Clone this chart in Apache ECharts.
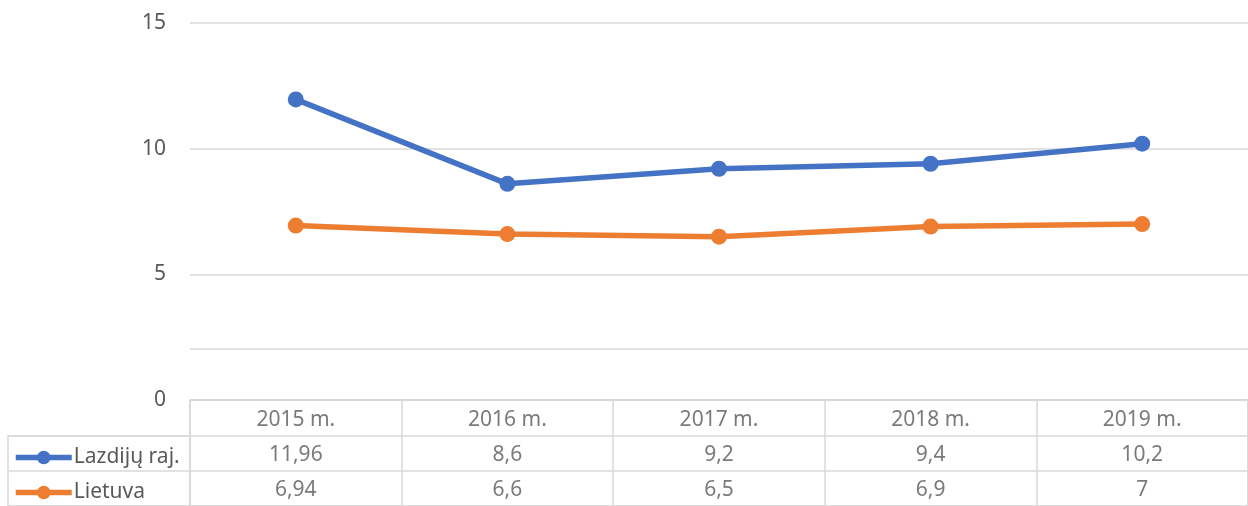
<!DOCTYPE html>
<html>
<head>
<meta charset="utf-8">
<script src="https://cdn.jsdelivr.net/npm/echarts@6/dist/echarts.min.js"></script>
<style>
  html, body { margin: 0; padding: 0; background: #fff; }
  #chart { width: 1248px; height: 506px; }
</style>
</head>
<body>
<div id="chart"></div>
<script>
const years = ['2015 m.', '2016 m.', '2017 m.', '2018 m.', '2019 m.']
const lazdijai = [11.96, 8.6, 9.2, 9.4, 10.2]
const lietuva = [6.94, 6.6, 6.5, 6.9, 7]
const seriesNames = ['Lazdijų raj.', 'Lietuva']
const seriesColors = ['#4472C4', '#ED7D31']
const rowLabels = ['header', ...seriesNames]

const gridColor = '#d9d9d9'
const textColor = '#595959'
const font = 'Noto Sans'
const fontSize = 21

const fmt = (v) => String(v).replace('.', ',')

// cells of the data table below the plot
const cells = []
years.forEach((y, i) => {
  cells.push([i, 0, y])
  cells.push([i, 1, fmt(lazdijai[i])])
  cells.push([i, 2, fmt(lietuva[i])])
})

// one legend per table row, so each sits in its own cell
const legendFor = (name, color, top) => ({
  data: [name],
  left: 8,
  top: top,
  itemWidth: 56,
  itemHeight: 17,
  lineStyle: { width: 5.5, color: color },
  itemStyle: { color: color },
  textStyle: { fontSize: fontSize, color: textColor, fontFamily: font, padding: [0, 0, 0, -3] },
  selectedMode: false,
})

const chart = echarts.init(document.getElementById('chart'))

chart.setOption({
  animation: false,
  textStyle: { fontFamily: font },
  legend: [
    legendFor(seriesNames[0], seriesColors[0], 442),
    legendFor(seriesNames[1], seriesColors[1], 477),
  ],
  grid: [
    { left: 190, right: 0, top: 23, height: 377 },
    { left: 190, right: 0, top: 400, height: 108, show: true, borderColor: gridColor, borderWidth: 1.5 },
    { left: 8, width: 182, top: 436, height: 72, show: true, borderColor: gridColor, borderWidth: 1.5 },
  ],
  xAxis: [
    {
      gridIndex: 0,
      type: 'category',
      data: years,
      boundaryGap: true,
      axisLine: { show: false },
      axisTick: { show: false },
      axisLabel: { show: false },
    },
    {
      gridIndex: 1,
      type: 'category',
      data: years,
      boundaryGap: true,
      axisLine: { show: false },
      axisTick: { show: false },
      axisLabel: { show: false },
      splitLine: { show: true, lineStyle: { color: gridColor, width: 1.5 } },
    },
    {
      gridIndex: 2,
      type: 'value',
      show: false,
    },
  ],
  yAxis: [
    {
      gridIndex: 0,
      type: 'value',
      min: 0,
      max: 15,
      interval: 5,
      axisLine: { show: false },
      axisTick: { show: false },
      axisLabel: { fontSize: fontSize, color: textColor, margin: 24, padding: [3, 0, 0, 0] },
      splitLine: { lineStyle: { color: gridColor, width: 1.5 } },
    },
    {
      gridIndex: 1,
      type: 'category',
      data: rowLabels,
      inverse: true,
      axisLine: { show: false },
      axisTick: { show: false },
      axisLabel: { show: false },
      splitLine: { show: true, lineStyle: { color: gridColor, width: 1.5 } },
    },
    {
      gridIndex: 2,
      type: 'category',
      data: seriesNames,
      inverse: true,
      axisLine: { show: false },
      axisTick: { show: false },
      axisLabel: { show: false },
      splitLine: { show: true, lineStyle: { color: gridColor, width: 1.5 } },
    },
  ],
  series: [
    {
      name: seriesNames[0],
      type: 'line',
      data: lazdijai,
      symbol: 'circle',
      symbolSize: 16,
      color: seriesColors[0],
      lineStyle: { width: 5.5 },
      markLine: {
        silent: true,
        symbol: 'none',
        label: { show: false },
        lineStyle: { color: gridColor, width: 1.5, type: 'solid' },
        data: [{ yAxis: 2.03 }],
      },
    },
    {
      name: seriesNames[1],
      type: 'line',
      data: lietuva,
      symbol: 'circle',
      symbolSize: 16,
      color: seriesColors[1],
      lineStyle: { width: 5.5 },
    },
    {
      type: 'scatter',
      xAxisIndex: 1,
      yAxisIndex: 1,
      data: cells,
      symbolSize: 0,
      silent: true,
      label: {
        show: true,
        position: 'inside',
        offset: [0, 2],
        formatter: (p) => p.data[2],
        fontSize: fontSize,
        color: textColor,
        fontFamily: font,
      },
    },
  ],
})
</script>
</body>
</html>
